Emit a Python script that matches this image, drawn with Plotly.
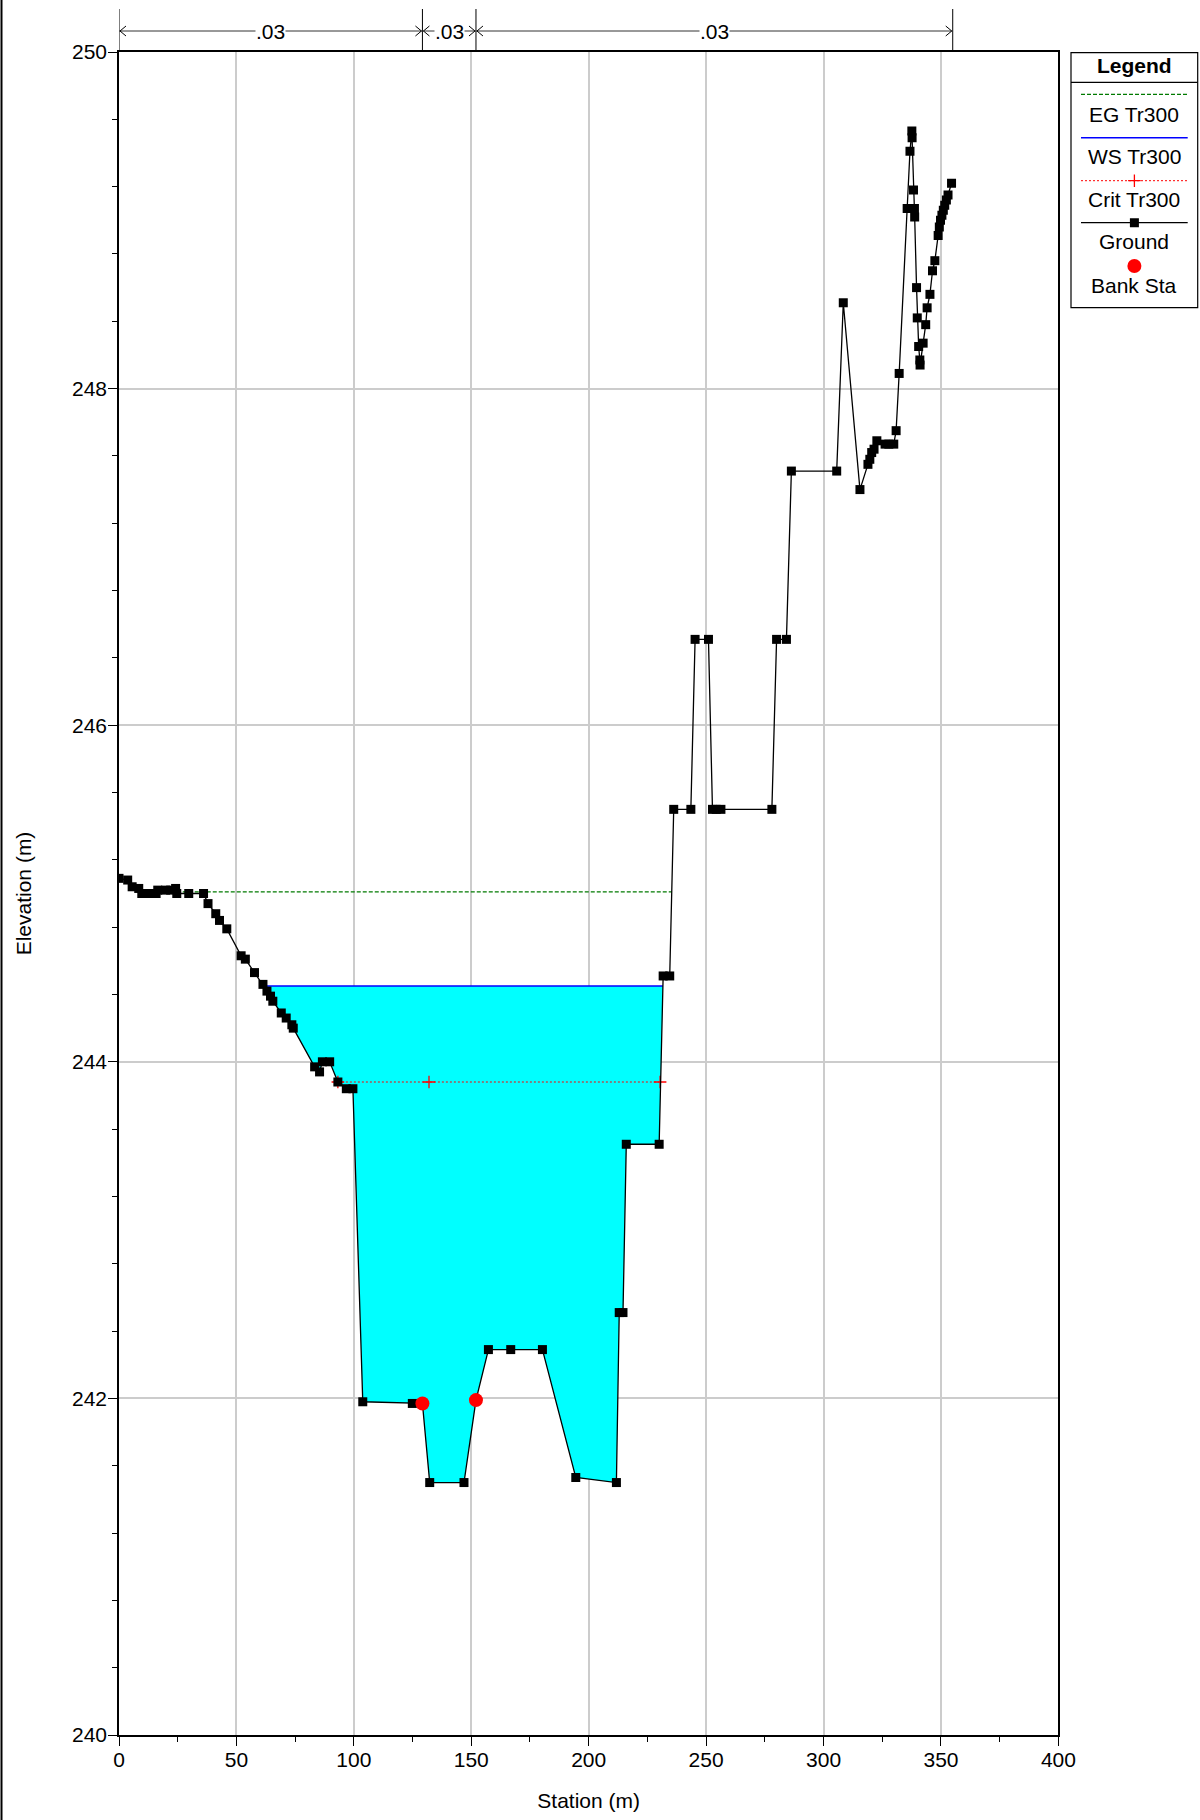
import plotly.graph_objects as go

# ---------------- data ----------------
ground_sta = [0.0, 3.7, 5.6, 8.4, 9.7, 12.7, 15.8, 16.5, 19.8, 22.0, 24.1, 24.6, 29.7, 36.0,
              37.9, 41.2, 42.8, 45.9, 52.0, 53.8, 57.7, 61.3, 63.0, 64.5, 65.5, 69.1, 71.2,
              73.6, 74.2, 83.3, 85.4, 86.6, 89.7, 93.2, 96.8, 99.6, 103.8, 124.9, 129.2,
              132.3, 146.9, 152.0, 157.3, 166.8, 180.3, 194.5, 211.8, 213.0, 214.6, 216.0,
              230.0, 231.7, 234.5, 236.2, 243.5, 245.3, 251.0, 252.7, 254.3, 256.3, 278.0,
              280.0, 284.2, 286.3, 305.6, 308.4, 315.5, 318.9, 319.7, 320.5, 321.5, 322.7,
              326.2, 327.8, 329.9, 330.9, 332.2, 335.6, 336.8, 337.6, 337.7, 338.3, 338.7,
              338.8, 339.6, 339.9, 340.5, 341.0, 341.1, 342.4, 343.5, 344.1, 345.3, 346.4,
              347.4, 348.8, 349.3, 349.8, 350.4, 351.0, 351.6, 352.3, 353.0, 354.5]
ground_elev = [245.09, 245.08, 245.04, 245.03, 245.00, 245.00, 245.00, 245.02, 245.02, 245.02,
               245.03, 245.00, 245.00, 245.00, 244.94, 244.88, 244.84, 244.79, 244.63, 244.61,
               244.53, 244.46, 244.42, 244.39, 244.36, 244.29, 244.26, 244.22, 244.20, 243.97,
               243.94, 244.00, 244.00, 243.88, 243.84, 243.84, 241.98, 241.97, 241.97, 241.50,
               241.50, 241.99, 242.29, 242.29, 242.29, 241.53, 241.50, 242.51, 242.51, 243.51,
               243.51, 244.51, 244.51, 245.50, 245.50, 246.51, 246.51, 245.50, 245.50, 245.50,
               245.50, 246.51, 246.51, 247.51, 247.51, 248.51, 247.40, 247.55, 247.58, 247.62,
               247.64, 247.69, 247.67, 247.67, 247.67, 247.75, 248.09, 249.07, 249.41, 249.53,
               249.49, 249.18, 249.07, 249.02, 248.60, 248.42, 248.25, 248.17, 248.14, 248.27,
               248.38, 248.48, 248.56, 248.70, 248.76, 248.91, 248.96, 249.00, 249.03, 249.06,
               249.09, 249.12, 249.15, 249.22]
bank_sta = [129.2, 152.0]
bank_elev = [241.97, 241.99]
eg_elev = 245.01
ws_elev = 244.45
crit_sta = [93.2, 132.0, 230.4]
crit_elev = 243.88
n_bounds = [0.0, 129.2, 152.0, 355.0]
n_labels = [".03", ".03", ".03"]
x_ticks = [0, 50, 100, 150, 200, 250, 300, 350, 400]
y_ticks = [240, 242, 244, 246, 248, 250]
legend_names = ["EG Tr300", "WS Tr300", "Crit Tr300", "Ground", "Bank Sta"]

FONT = "Liberation Sans, Arial, Helvetica, sans-serif"
FS = 21
W, H = 1200, 1820
ML, MR, MT, MB = 119, 0, 52, 85
PW, PH = W - ML - MR, H - MT - MB
EG_COLOR = "#007a00"
EG_DASH = "4px,2px"


def crossings(xs, ys, level):
    out = []
    for i in range(len(xs) - 1):
        a, b = ys[i] - level, ys[i + 1] - level
        if a == 0:
            out.append((i, xs[i]))
        elif a * b < 0:
            t = a / (a - b)
            out.append((i, xs[i] + t * (xs[i + 1] - xs[i])))
    return out


fig = go.Figure()

# water fill (WS clipped by ground)
wc = crossings(ground_sta, ground_elev, ws_elev)
(il, xl), (ir, xr) = wc[0], wc[-1]
fill_x = [xl] + ground_sta[il + 1: ir + 1] + [xr]
fill_y = [ws_elev] + ground_elev[il + 1: ir + 1] + [ws_elev]
fig.add_trace(go.Scatter(x=fill_x, y=fill_y, fill="toself", fillcolor="#00ffff",
                         mode="lines", line=dict(width=0), hoverinfo="skip", name="water"))

# EG line
ec = crossings(ground_sta, ground_elev, eg_elev)
fig.add_trace(go.Scatter(x=[ec[0][1], ec[-1][1]], y=[eg_elev, eg_elev], mode="lines",
                         line=dict(color=EG_COLOR, width=1.3, dash=EG_DASH), name=legend_names[0]))
# WS line
fig.add_trace(go.Scatter(x=[xl, xr], y=[ws_elev, ws_elev], mode="lines",
                         line=dict(color="#0000ff", width=1.5), name=legend_names[1]))
# Crit line
fig.add_trace(go.Scatter(x=crit_sta, y=[crit_elev] * len(crit_sta), mode="lines+markers",
                         line=dict(color="#ff0000", width=1, dash="2px,2px"),
                         marker=dict(symbol="cross-thin", size=9, line=dict(color="#ff0000", width=1.3)),
                         name=legend_names[2]))
# Ground
fig.add_trace(go.Scatter(x=ground_sta, y=ground_elev, mode="lines+markers",
                         line=dict(color="black", width=1.3),
                         marker=dict(symbol="square", size=9, color="black"),
                         name=legend_names[3]))
# Bank stations
fig.add_trace(go.Scatter(x=bank_sta, y=bank_elev, mode="markers",
                         marker=dict(symbol="circle", size=14, color="#ff0000"),
                         name=legend_names[4]))

# ---------------- custom legend (HEC-RAS style) ----------------
LW = 126.7
sample_x = [10, 63.4, 116.7]
line_y = [41.6, 85, 128, 170, 213.3]
text_y = [61.3, 104, 146.6, 189, 232.3]
fig.add_trace(go.Scatter(x=[sample_x[0], sample_x[2]], y=[line_y[0]] * 2, xaxis="x2", yaxis="y2",
                         mode="lines", line=dict(color=EG_COLOR, width=1.3, dash=EG_DASH),
                         hoverinfo="skip", showlegend=False))
fig.add_trace(go.Scatter(x=[sample_x[0], sample_x[2]], y=[line_y[1]] * 2, xaxis="x2", yaxis="y2",
                         mode="lines", line=dict(color="#0000ff", width=1.5),
                         hoverinfo="skip", showlegend=False))
fig.add_trace(go.Scatter(x=sample_x, y=[line_y[2]] * 3, xaxis="x2", yaxis="y2",
                         mode="lines+markers", line=dict(color="#ff0000", width=1, dash="2px,2px"),
                         marker=dict(symbol="cross-thin", size=9, line=dict(color="#ff0000", width=1.3),
                                     opacity=[0, 1, 0]),
                         hoverinfo="skip", showlegend=False))
fig.add_trace(go.Scatter(x=sample_x, y=[line_y[3]] * 3, xaxis="x2", yaxis="y2",
                         mode="lines+markers", line=dict(color="black", width=1.3),
                         marker=dict(symbol="square", size=9, color="black", opacity=[0, 1, 0]),
                         hoverinfo="skip", showlegend=False))
fig.add_trace(go.Scatter(x=[sample_x[1]], y=[line_y[4]], xaxis="x2", yaxis="y2",
                         mode="markers", marker=dict(symbol="circle", size=14, color="#ff0000"),
                         hoverinfo="skip", showlegend=False))

annotations = [dict(x=LW / 2, y=12.5, xref="x2", yref="y2", text="<b>Legend</b>", showarrow=False,
                    font=dict(size=FS, family=FONT, color="black"), xanchor="center", yanchor="middle")]
for name, ty in zip(legend_names, text_y):
    annotations.append(dict(x=LW / 2, y=ty, xref="x2", yref="y2", text=name, showarrow=False,
                            font=dict(size=FS, family=FONT, color="black"),
                            xanchor="center", yanchor="middle"))

shapes = [
    dict(type="rect", xref="x2 domain", yref="y2 domain", x0=0, x1=1, y0=0, y1=1,
         line=dict(color="black", width=1.2)),
    dict(type="line", xref="x2", yref="y2", x0=0, x1=LW, y0=29.6, y1=29.6,
         line=dict(color="black", width=1.2)),
    # image frame at left edge
    dict(type="line", xref="paper", yref="paper", x0=(1.5 - ML) / PW, x1=(1.5 - ML) / PW,
         y0=-MB / PH, y1=1 + MT / PH, line=dict(color="black", width=2)),
]

# ---------------- Manning's n annotation on top ----------------
y_arrow = 1 + (MT - 31) / PH
y_top = 1 + (MT - 9) / PH
for b in n_bounds:
    shapes.append(dict(type="line", xref="x", yref="paper", x0=b, x1=b, y0=1, y1=y_top,
                       line=dict(color="black", width=1)))
for k, lab in enumerate(n_labels):
    a, b = n_bounds[k], n_bounds[k + 1]
    shapes.append(dict(type="line", xref="x", yref="paper", x0=a, x1=b, y0=y_arrow, y1=y_arrow,
                       line=dict(color="#333333", width=1)))
    shapes.append(dict(type="path", xref="x", yref="paper", xsizemode="pixel", ysizemode="pixel",
                       xanchor=a, yanchor=y_arrow, path="M 7,5 L 1,0 L 7,-5",
                       line=dict(color="black", width=1)))
    shapes.append(dict(type="path", xref="x", yref="paper", xsizemode="pixel", ysizemode="pixel",
                       xanchor=b, yanchor=y_arrow, path="M -7,5 L -1,0 L -7,-5",
                       line=dict(color="black", width=1)))
    annotations.append(dict(x=(a + b) / 2, y=y_arrow, xref="x", yref="paper", text=lab,
                            showarrow=False, bgcolor="white", borderpad=0,
                            font=dict(size=FS, family=FONT, color="black"),
                            xanchor="center", yanchor="middle"))

axis_common = dict(showline=True, linecolor="black", linewidth=1.5, mirror=True,
                   ticks="outside", ticklen=9, tickwidth=1, tickcolor="black",
                   showgrid=True, gridcolor="#cccccc", gridwidth=1.5, zeroline=False,
                   automargin=False,
                   tickfont=dict(size=FS, family=FONT, color="black"))

fig.update_layout(
    width=W, height=H, autosize=False,
    margin=dict(l=ML, r=MR, t=MT, b=MB, autoexpand=False),
    paper_bgcolor="white", plot_bgcolor="white",
    showlegend=False,
    font=dict(family=FONT, size=FS, color="black"),
    xaxis=dict(domain=[0, 939.4 / PW], range=[0, 400], tickvals=x_ticks,
               minor=dict(dtick=25, tick0=0, ticks="outside", ticklen=5, tickcolor="black", showgrid=False),
               title=dict(text="Station (m)", standoff=23, font=dict(size=FS, family=FONT)),
               anchor="y", **axis_common),
    yaxis=dict(domain=[0, 1], range=[240, 250], tickvals=y_ticks,
               minor=dict(dtick=0.4, tick0=240, ticks="outside", ticklen=5, tickcolor="black", showgrid=False),
               title=dict(text="Elevation (m)", standoff=35, font=dict(size=FS, family=FONT)),
               anchor="x", **axis_common),
    xaxis2=dict(domain=[(1071 - ML) / PW, (1197.7 - ML) / PW], range=[0, LW], visible=False,
                anchor="y2", fixedrange=True, automargin=False),
    yaxis2=dict(domain=[(H - MB - 307.7) / PH, (H - MB - 52.7) / PH], range=[255, 0], visible=False,
                anchor="x2", fixedrange=True, automargin=False),
    shapes=shapes,
    annotations=annotations,
)

try:
    fig.update_xaxes(ticklabelstandoff=-4, selector=dict(anchor="y"))
    fig.update_yaxes(ticklabelstandoff=-3, selector=dict(anchor="x"))
except Exception:
    pass

post = ("document.documentElement.style.margin='0';document.body.style.margin='0';"
        "document.body.style.padding='0';document.body.style.overflow='hidden';"
        "var gd=document.getElementById('{plot_id}');"
        "Plotly.relayout(gd,{width:%d,height:%d});" % (W, H))
fig.write_html("out.html", post_script=post, config={"responsive": False, "displayModeBar": False})
